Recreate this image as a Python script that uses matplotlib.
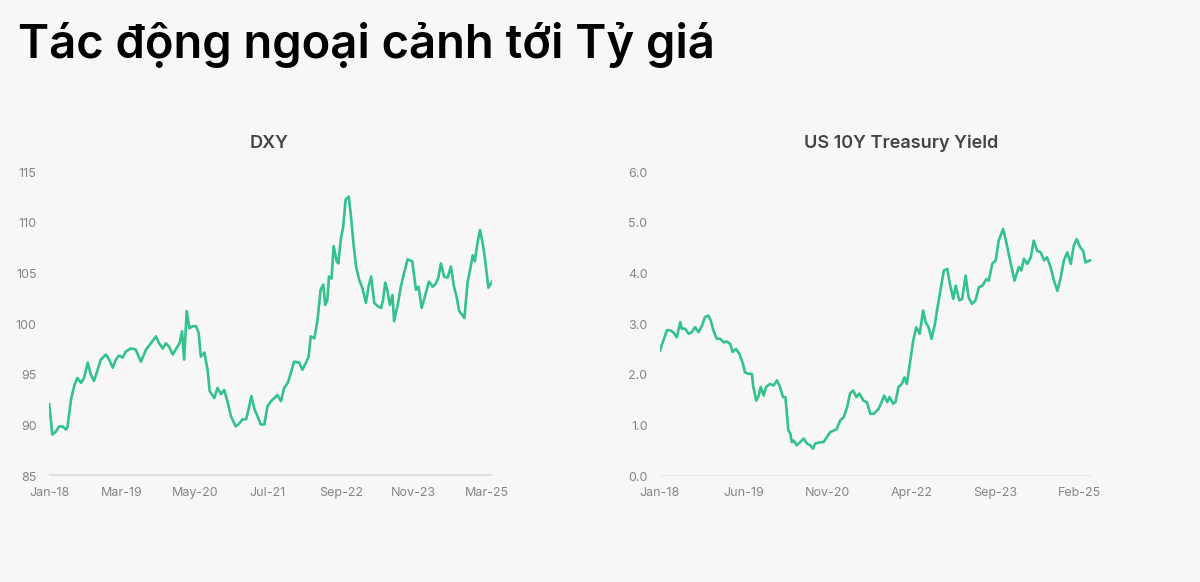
import matplotlib
matplotlib.use("Agg")
import matplotlib.pyplot as plt

# months since Jan-2018
dxy_month = [0.0, 0.6, 1.3, 1.9, 2.6, 3.2, 3.5, 4.2, 4.8, 5.4, 6.1, 6.7, 7.4, 8.0, 8.6, 9.3,
             9.9, 10.9, 11.5, 12.2, 12.8, 13.4, 14.1, 14.7, 15.7, 16.6, 17.6, 18.6, 19.5, 20.5,
             21.1, 21.8, 22.4, 23.0, 23.7, 24.3, 25.0, 25.5, 25.9, 26.4, 26.9, 27.5, 28.2, 28.7,
             29.1, 29.8, 30.4, 30.8, 31.7, 32.3, 33.0, 33.6, 34.2, 34.9, 35.8, 36.5, 37.1, 37.8,
             38.4, 38.8, 39.4, 40.0, 40.6, 41.3, 41.9, 42.6, 43.2, 43.8, 44.5, 45.1, 45.8, 46.4,
             47.0, 48.0, 48.6, 49.3, 49.8, 50.2, 50.9, 51.5, 52.1, 52.6, 53.0, 53.4, 53.7, 54.2,
             54.6, 55.2, 55.5, 56.0, 56.4, 56.9, 57.5, 57.9, 58.4, 58.9, 59.5, 60.1, 60.8, 61.3,
             61.8, 62.4, 63.0, 63.7, 64.1, 64.5, 64.9, 65.4, 65.9, 66.2, 66.9, 67.5, 68.1, 68.8,
             69.7, 70.4, 70.9, 71.5, 72.2, 72.9, 73.6, 74.2, 74.7, 75.2, 75.8, 76.5, 77.1, 77.7,
             78.2, 78.7, 79.3, 79.7, 80.3, 80.8, 81.3, 81.7, 82.2, 82.7, 83.2, 83.6, 83.9, 84.3,
             85.0]
dxy_value = [92.1, 89.1, 89.4, 89.9, 89.9, 89.6, 89.8, 92.6, 93.9, 94.7, 94.2, 94.7, 96.2, 95.0,
             94.4, 95.5, 96.5, 97.0, 96.5, 95.7, 96.5, 96.9, 96.7, 97.3, 97.6, 97.5, 96.3, 97.5,
             98.1, 98.8, 98.1, 97.6, 98.1, 97.8, 97.0, 97.5, 98.1, 99.3, 96.5, 101.3, 99.6, 99.8,
             99.8, 99.1, 96.8, 97.2, 95.5, 93.4, 92.7, 93.7, 93.1, 93.5, 92.4, 90.9, 89.9, 90.2,
             90.6, 90.6, 91.9, 92.9, 91.6, 90.9, 90.1, 90.1, 91.9, 92.4, 92.7, 93.0, 92.4, 93.7,
             94.2, 95.2, 96.3, 96.2, 95.5, 96.2, 96.8, 98.8, 98.6, 100.4, 103.4, 103.9, 101.9,
             102.4, 104.7, 104.5, 107.7, 106.2, 106.0, 108.5, 109.5, 112.3, 112.6, 110.8, 108.0,
             105.7, 104.4, 103.6, 102.1, 103.7, 104.7, 102.1, 101.8, 101.6, 102.4, 104.1, 103.4,
             101.9, 102.9, 100.3, 101.9, 103.7, 105.0, 106.4, 106.2, 103.4, 103.7, 101.6, 102.9,
             104.2, 103.7, 104.0, 104.6, 106.0, 104.7, 104.6, 105.7, 103.7, 102.7, 101.3, 100.9,
             100.6, 104.1, 105.4, 106.8, 106.2, 108.0, 109.3, 108.0, 106.7, 105.4, 103.6, 104.2]

ust_month = [0.0, 0.7, 1.4, 2.0, 2.7, 3.4, 4.1, 4.4, 5.1, 5.8, 6.4, 7.1, 7.8, 8.5, 9.1, 9.8,
             10.3, 10.8, 11.5, 12.2, 12.9, 13.5, 14.2, 14.7, 15.4, 16.1, 16.8, 17.2, 17.9, 18.6,
             18.9, 19.5, 20.0, 20.4, 21.0, 21.5, 22.3, 23.0, 23.7, 24.3, 24.9, 25.4, 25.7, 26.0,
             26.4, 26.7, 27.1, 27.7, 28.4, 29.1, 29.8, 30.4, 31.0, 31.4, 32.5, 33.1, 33.8, 34.5,
             35.2, 35.8, 36.5, 37.2, 37.9, 38.5, 39.1, 39.8, 40.4, 41.2, 41.9, 42.6, 43.3, 44.3,
             45.0, 45.4, 46.0, 46.5, 47.2, 47.7, 48.3, 49.0, 49.5, 50.0, 50.7, 51.3, 51.9, 52.6,
             53.3, 53.8, 54.4, 55.0, 55.7, 56.1, 56.8, 57.5, 58.2, 58.7, 59.4, 59.9, 60.6, 61.2,
             61.9, 62.5, 63.2, 63.9, 64.6, 65.3, 66.1, 66.6, 67.3, 68.0, 68.6, 69.5, 70.2, 70.9,
             71.8, 72.7, 73.2, 73.7, 74.4, 75.1, 75.7, 76.4, 77.1, 77.8, 78.4, 79.1, 79.8, 80.5,
             81.1, 81.8, 82.5, 83.2, 83.8, 84.4, 85.1, 85.7, 86.2, 87.1]
ust_value = [2.48, 2.68, 2.88, 2.88, 2.84, 2.74, 3.04, 2.91, 2.91, 2.81, 2.84, 2.94, 2.84, 2.97,
             3.14, 3.17, 3.07, 2.88, 2.71, 2.71, 2.64, 2.66, 2.61, 2.45, 2.51, 2.41, 2.22, 2.05,
             2.02, 2.02, 1.76, 1.49, 1.59, 1.76, 1.59, 1.76, 1.82, 1.79, 1.89, 1.76, 1.56, 1.56,
             1.23, 0.90, 0.84, 0.67, 0.70, 0.61, 0.67, 0.74, 0.64, 0.61, 0.54, 0.64, 0.67, 0.67,
             0.77, 0.87, 0.90, 0.93, 1.10, 1.16, 1.36, 1.63, 1.69, 1.56, 1.63, 1.49, 1.46, 1.23,
             1.23, 1.33, 1.49, 1.59, 1.46, 1.56, 1.43, 1.46, 1.76, 1.82, 1.95, 1.82, 2.28, 2.68,
             2.94, 2.81, 3.27, 3.04, 2.94, 2.71, 3.01, 3.27, 3.66, 4.06, 4.09, 3.80, 3.50, 3.76,
             3.47, 3.50, 3.96, 3.53, 3.40, 3.47, 3.73, 3.76, 3.89, 3.86, 4.19, 4.26, 4.65, 4.88,
             4.59, 4.26, 3.86, 4.13, 4.06, 4.29, 4.19, 4.32, 4.65, 4.45, 4.42, 4.26, 4.32, 4.13,
             3.86, 3.66, 3.89, 4.26, 4.42, 4.19, 4.55, 4.68, 4.52, 4.45, 4.22, 4.26]

dxy_ticks = [0, 14, 28, 42, 56, 70, 84]
dxy_labels = ["Jan-18", "Mar-19", "May-20", "Jul-21", "Sep-22", "Nov-23", "Mar-25"]
ust_ticks = [0, 17, 34, 51, 68, 85]
ust_labels = ["Jan-18", "Jun-19", "Nov-20", "Apr-22", "Sep-23", "Feb-25"]

BG = "#f7f7f7"
GREEN = "#33c28c"
GREY = "#858585"

plt.rcParams["font.family"] = ["Inter", "DejaVu Sans"]

fig = plt.figure(figsize=(12, 5.82), dpi=100, facecolor=BG)

fig.text(0.015, 0.90, "Tác động ngoại cảnh tới Tỷ giá", fontsize=34, fontweight="semibold",
         color="black", ha="left", va="baseline")


def style_axis(ax, ticks, labels):
    ax.set_facecolor(BG)
    for s in ax.spines.values():
        s.set_visible(False)
    ax.set_xticks(ticks)
    ax.set_xticklabels(labels)
    ax.tick_params(axis="both", length=0, colors=GREY, labelsize=9)
    ax.tick_params(axis="x", pad=8)
    ax.tick_params(axis="y", pad=9)


# DXY
ax1 = fig.add_axes([0.041, 0.182, 0.369, 0.522])
ax1.plot(dxy_month, dxy_value, color=GREEN, lw=1.9, solid_joinstyle="round")
ax1.axhline(85, color="#dedede", lw=3.5, zorder=0)
ax1.set_xlim(0, 85)
ax1.set_ylim(85, 115)
ax1.set_yticks([85, 90, 95, 100, 105, 110, 115])
style_axis(ax1, dxy_ticks, dxy_labels)
fig.text(0.2245, 0.754, "DXY", fontsize=13, fontweight="semibold", color="#444444",
         ha="center", va="center")

# US 10Y
ax2 = fig.add_axes([0.55, 0.182, 0.36, 0.522])
ax2.plot(ust_month, ust_value, color=GREEN, lw=1.9, solid_joinstyle="round")
ax2.axhline(0, color="#e3e3e3", lw=1.2, zorder=0)
ax2.set_xlim(0, 87.5)
ax2.set_ylim(0, 6)
ax2.set_yticks([0, 1, 2, 3, 4, 5, 6])
ax2.set_yticklabels(["0.0", "1.0", "2.0", "3.0", "4.0", "5.0", "6.0"])
style_axis(ax2, ust_ticks, ust_labels)
fig.text(0.7508, 0.754, "US 10Y Treasury Yield", fontsize=13, fontweight="semibold",
         color="#444444", ha="center", va="center")

fig.savefig("out.png", dpi=100, facecolor=BG)
